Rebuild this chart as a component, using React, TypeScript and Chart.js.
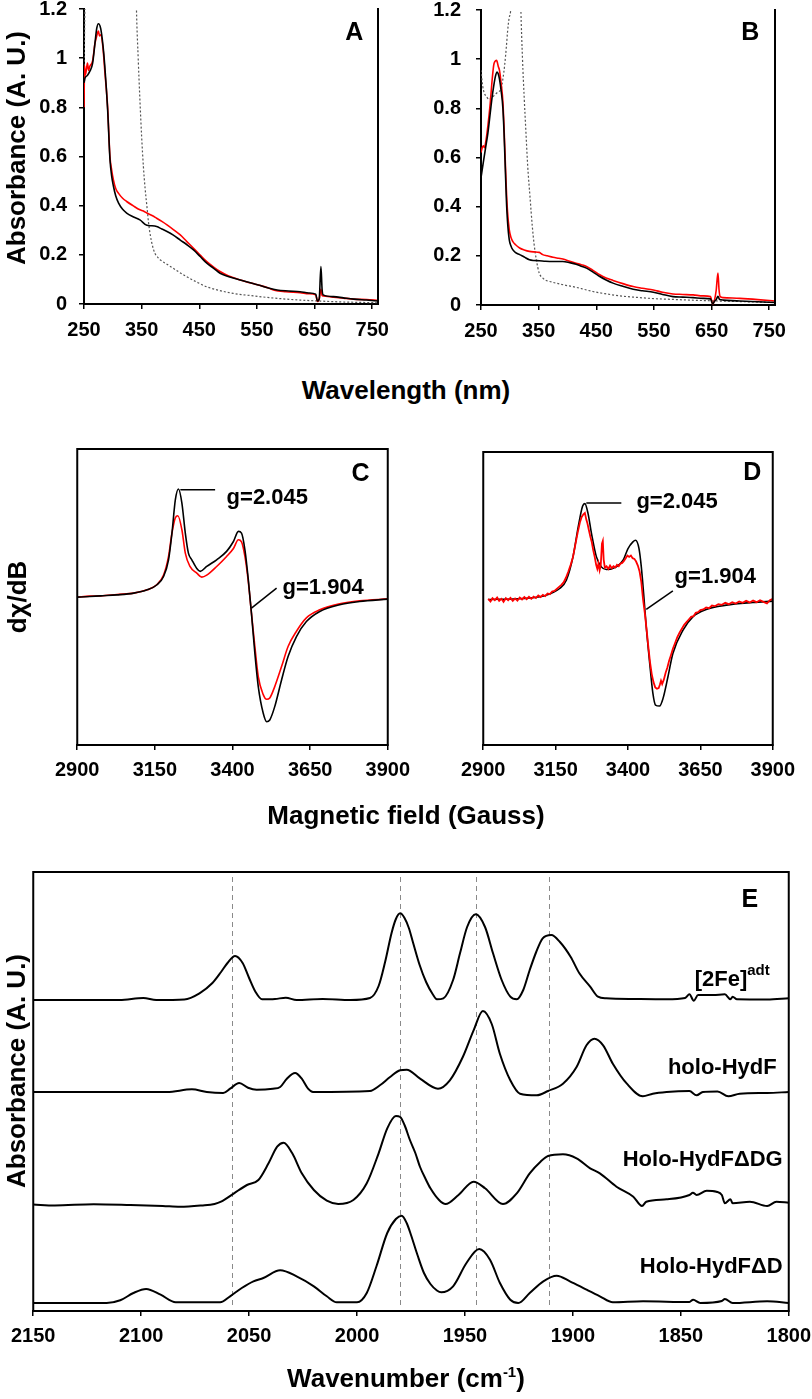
import React, { useEffect, useRef } from "react";
import { Chart, registerables } from "chart.js";

Chart.register(...registerables);

const FONT = '"Liberation Sans", Arial, Helvetica, sans-serif';
type Pt = [number, number];

// ---------- Panel A / B : UV-vis ----------
const AB_X_TICKS = [250, 350, 450, 550, 650, 750];
const AB_Y_TICKS = [0, 0.2, 0.4, 0.6, 0.8, 1, 1.2];

const A_BLACK: Pt[] = [
  [250, 0.9], [252, 0.92], [256, 0.93], [260, 0.946], [265, 0.98], [269, 1.06], [272, 1.12], [275, 1.14],
  [279, 1.12], [283, 1.05], [286, 0.97], [291, 0.79], [295, 0.59], [298, 0.52], [301, 0.48], [305, 0.44],
  [310, 0.41], [317, 0.385], [324, 0.37], [335, 0.355], [347, 0.342], [359, 0.32], [368, 0.318], [376, 0.315],
  [385, 0.305], [394, 0.295], [405, 0.28], [417, 0.26], [428, 0.242], [440, 0.22], [452, 0.192], [463, 0.166],
  [475, 0.145], [486, 0.125], [500, 0.112], [521, 0.098], [540, 0.085], [556, 0.075], [570, 0.065], [585, 0.057],
  [605, 0.053], [625, 0.05], [640, 0.045], [652, 0.04], [655, 0.012], [658, 0.02], [661, 0.152], [663, 0.06],
  [665, 0.037], [683, 0.03], [700, 0.025], [718, 0.02], [740, 0.016], [760, 0.012],
];
const A_RED: Pt[] = [
  [250, 0.8], [251, 0.97], [252, 0.93], [254, 0.95], [256, 0.98], [258, 0.95], [260, 0.966], [265, 0.99],
  [269, 1.06], [272, 1.09], [275, 1.11], [277, 1.09], [279, 1.095], [283, 1.04], [286, 0.95], [291, 0.8],
  [295, 0.6], [298, 0.545], [301, 0.505], [305, 0.47], [310, 0.45], [317, 0.43], [324, 0.417], [335, 0.4],
  [347, 0.383], [353, 0.378], [359, 0.37], [368, 0.36], [376, 0.349], [385, 0.336], [394, 0.322], [405, 0.303],
  [417, 0.281], [428, 0.255], [440, 0.227], [452, 0.198], [463, 0.172], [475, 0.15], [486, 0.132], [500, 0.115],
  [521, 0.098], [540, 0.085], [556, 0.075], [570, 0.065], [580, 0.056], [600, 0.05], [625, 0.046], [640, 0.042],
  [652, 0.037], [655, 0.01], [658, 0.02], [661, 0.06], [663, 0.035], [665, 0.033], [683, 0.028], [700, 0.024],
  [718, 0.02], [740, 0.018], [760, 0.015],
];
const A_DOTTED: Pt[] = [
  [250, 0.92], [251, 1.1], [252, 1.3], [253, 1.6], [300, 1.6], [338, 1.6], [341, 1.2], [344, 1.0], [347, 0.83],
  [350, 0.68], [353, 0.56], [356, 0.47], [359, 0.4], [362, 0.33], [365, 0.28], [369, 0.235], [373, 0.206],
  [378, 0.19], [382, 0.18], [393, 0.163], [405, 0.145], [416, 0.128], [428, 0.111], [445, 0.09], [463, 0.07],
  [485, 0.055], [509, 0.043], [540, 0.034], [567, 0.027], [600, 0.02], [625, 0.016], [650, 0.013], [660, 0.012],
  [683, 0.0095], [720, 0.007], [760, 0.005],
];

const B_BLACK: Pt[] = [
  [250, 0.518], [254, 0.58], [258, 0.64], [262, 0.7], [266, 0.78], [269, 0.84], [272, 0.89], [275, 0.93],
  [278, 0.948], [280, 0.94], [282, 0.92], [285, 0.87], [288, 0.8], [290, 0.7], [292, 0.566], [294, 0.43],
  [296, 0.34], [299, 0.266], [302, 0.24], [305, 0.225], [310, 0.213], [317, 0.205], [325, 0.195], [334, 0.184],
  [342, 0.181], [351, 0.18], [362, 0.178], [375, 0.177], [392, 0.177], [404, 0.172], [415, 0.166], [424, 0.158],
  [433, 0.15], [445, 0.133], [456, 0.116], [467, 0.102], [479, 0.089], [496, 0.076], [514, 0.064], [530, 0.058],
  [549, 0.052], [565, 0.043], [583, 0.034], [600, 0.032], [618, 0.03], [635, 0.027], [648, 0.025], [652, 0.004],
  [655, 0.015], [658, 0.022], [661, 0.035], [664, 0.022], [670, 0.02], [699, 0.016], [730, 0.013], [760, 0.01],
];
const B_RED: Pt[] = [
  [250, 0.62], [252, 0.64], [254, 0.648], [256, 0.64], [258, 0.66], [262, 0.73], [266, 0.82], [269, 0.907],
  [272, 0.975], [274, 0.99], [277, 0.995], [280, 0.97], [282, 0.955], [285, 0.9], [288, 0.825], [290, 0.72],
  [292, 0.593], [294, 0.47], [296, 0.38], [299, 0.307], [302, 0.275], [305, 0.259], [310, 0.245], [317, 0.232],
  [325, 0.224], [334, 0.218], [342, 0.216], [351, 0.214], [357, 0.205], [365, 0.2], [375, 0.194], [385, 0.19],
  [392, 0.187], [404, 0.178], [415, 0.17], [424, 0.164], [433, 0.157], [445, 0.14], [456, 0.123], [467, 0.11],
  [479, 0.1], [496, 0.087], [514, 0.075], [530, 0.068], [549, 0.061], [565, 0.052], [583, 0.045], [600, 0.043],
  [618, 0.041], [635, 0.037], [648, 0.034], [652, 0.004], [655, 0.02], [658, 0.06], [661, 0.13], [663, 0.06],
  [665, 0.034], [670, 0.03], [699, 0.027], [730, 0.022], [760, 0.016],
];
const B_DOTTED: Pt[] = [
  [250, 0.955], [253, 0.89], [256, 0.86], [259, 0.85], [264, 0.836], [270, 0.846], [275, 0.857], [279, 0.866],
  [285, 0.88], [288, 0.92], [291, 0.975], [294, 1.05], [296, 1.11], [299, 1.17], [302, 1.22], [305, 1.6],
  [316, 1.6], [319, 1.22], [322, 1.0], [325, 0.84], [328, 0.7], [331, 0.566], [335, 0.44], [339, 0.32],
  [342, 0.25], [346, 0.184], [351, 0.13], [357, 0.11], [363, 0.1], [372, 0.094], [380, 0.089], [397, 0.08],
  [415, 0.072], [430, 0.063], [444, 0.055], [465, 0.046], [491, 0.037], [520, 0.031], [549, 0.026], [580, 0.023],
  [612, 0.02], [650, 0.017], [699, 0.014], [730, 0.012], [760, 0.01],
];

// ---------- Panel C / D : EPR ----------
const CD_X_TICKS = [2900, 3150, 3400, 3650, 3900];

const C_BLACK: Pt[] = [
  [2900, -0.5], [2940, 0], [2975, 0.5], [3028, 1.2], [3082, 2.5], [3125, 5], [3157, 8.8], [3178, 15],
  [3194, 27.5], [3205, 47.5], [3216, 72.5], [3226, 80.5], [3237, 70], [3248, 47.5], [3258, 32.5], [3269, 27.5],
  [3285, 21], [3296, 18.8], [3317, 22.5], [3349, 27.5], [3381, 33.8], [3403, 41.2], [3419, 48.8], [3429, 47.5],
  [3440, 35], [3451, 12.5], [3461, -12.5], [3472, -42.5], [3483, -67.5], [3499, -87.5], [3510, -93.8],
  [3520, -92.5], [3536, -82.5], [3558, -62.5], [3579, -45], [3606, -30], [3638, -18.8], [3681, -11.2],
  [3745, -6.2], [3809, -3.8], [3900, -2],
];
const C_RED: Pt[] = [
  [2900, -0.5], [2940, 0.3], [2975, 0.5], [3028, 1.5], [3082, 2.5], [3125, 5], [3157, 9], [3178, 16],
  [3194, 30], [3205, 47.5], [3216, 59], [3224, 60.5], [3237, 50], [3248, 32.5], [3263, 22.5], [3285, 17.5],
  [3301, 14.5], [3317, 16], [3349, 22.5], [3381, 30], [3403, 36], [3419, 42.5], [3429, 41], [3440, 30],
  [3451, 11], [3461, -12.5], [3472, -37.5], [3483, -60], [3499, -73.5], [3510, -77], [3520, -76], [3536, -67.5],
  [3558, -52.5], [3579, -37.5], [3606, -26], [3638, -16], [3681, -10], [3745, -5.5], [3809, -3.2], [3900, -1.8],
];
const D_BLACK: Pt[] = [
  [2917, 0], [3038, 0.75], [3118, 3.25], [3164, 8.25], [3187, 14.5], [3210, 32], [3228, 54.5], [3243, 70],
  [3251, 72], [3262, 64.5], [3274, 49.5], [3291, 32], [3308, 24.5], [3325, 22.5], [3360, 24.5], [3383, 29.5],
  [3400, 38.25], [3417, 43.25], [3426, 44.5], [3438, 38.25], [3446, 24.5], [3454, 4.5], [3463, -20.5],
  [3475, -48], [3486, -70.5], [3495, -79.25], [3509, -80], [3521, -74.25], [3538, -58], [3555, -40.5],
  [3590, -23], [3624, -13], [3670, -7.5], [3739, -4.25], [3831, -2.25], [3900, -1.25],
];
const D_RED: Pt[] = [
  [2917, 0.5], [2925, -1.5], [2932, 1], [2940, -0.5], [2948, 1.5], [2955, -1], [2963, 0.5], [2970, -1.8],
  [2978, 1], [2986, -0.5], [2994, 1.2], [3002, -1], [3010, 0.8], [3018, -0.8], [3026, 1.5], [3034, 0],
  [3042, 1.8], [3050, 0.2], [3058, 2], [3066, 0.5], [3074, 2.2], [3082, 1], [3090, 3], [3098, 1.8],
  [3106, 3.5], [3114, 2.5], [3122, 4.5], [3130, 4], [3138, 6], [3146, 6.5], [3154, 8], [3162, 9.5],
  [3170, 11], [3178, 13], [3186, 16.5], [3194, 21], [3202, 26], [3210, 32], [3218, 41], [3226, 50],
  [3234, 58], [3240, 62], [3246, 64], [3251, 65], [3256, 60], [3260, 57], [3265, 52], [3270, 47],
  [3275, 43], [3280, 37], [3285, 32], [3290, 26], [3294, 23], [3298, 27], [3302, 22], [3306, 26],
  [3310, 42], [3313, 44], [3316, 30], [3320, 24], [3326, 25], [3332, 23], [3338, 25.5], [3344, 23.5],
  [3350, 25], [3356, 24], [3362, 26], [3368, 25], [3374, 27], [3380, 27.5], [3386, 29], [3392, 31],
  [3398, 33], [3404, 32], [3410, 33], [3416, 31], [3422, 30.5], [3428, 28.5], [3434, 25.5], [3440, 21],
  [3446, 13], [3452, 0], [3458, -10], [3464, -22], [3470, -35], [3476, -47], [3482, -56], [3488, -62],
  [3494, -66], [3500, -67], [3506, -66.5], [3510, -64], [3514, -61], [3518, -63.5], [3524, -60], [3530, -55],
  [3536, -51], [3542, -46], [3548, -42], [3555, -37], [3562, -33], [3570, -28.5], [3578, -25], [3586, -22],
  [3594, -19], [3602, -17], [3610, -15], [3618, -13], [3626, -12.5], [3634, -10], [3642, -9.5], [3650, -8],
  [3660, -7.5], [3670, -6], [3680, -6.5], [3690, -4.5], [3700, -5], [3712, -3.5], [3724, -4], [3736, -2.5],
  [3748, -3.5], [3760, -2], [3772, -3], [3784, -1.5], [3796, -2.5], [3808, -1], [3820, -2.2], [3832, -0.8],
  [3844, -2], [3856, -0.5], [3868, -1.8], [3880, -3], [3890, -0.5], [3900, 0.5],
];

// ---------- Panel E : FTIR ----------
const E_X_TICKS = [2150, 2100, 2050, 2000, 1950, 1900, 1850, 1800];
const E_MARKERS = [2058, 1980, 1945, 1911];
const E_NAMES = ["[2Fe]", "holo-HydF", "Holo-HydFΔDG", "Holo-HydFΔD"];
const E_OFFSETS = [311, 219, 106, 8];

const E_2FE: Pt[] = [
  [2150, 0], [2110, 0], [2099, 2], [2093, 0], [2080, 0.5], [2073, 6.7], [2067, 17], [2063, 28], [2060, 37],
  [2056.5, 44], [2053, 37], [2050, 22], [2047, 8], [2044, 0.7], [2038, 1], [2033, 2.3], [2028, 0], [2016, 1],
  [2003, 0], [1994, 2], [1990, 14], [1987, 38], [1984, 67], [1982, 81], [1980, 86.7], [1978, 82], [1976, 72],
  [1974, 57], [1971, 35], [1968, 18], [1965, 6], [1963, 0.7], [1960, 1.7], [1955.5, 20], [1952.3, 46.7],
  [1949, 73], [1945, 85.7], [1940.7, 73], [1937, 46.7], [1933, 20], [1929, 3.3], [1926, 0.7], [1923, 10],
  [1920, 30], [1917, 48], [1914, 61.7], [1910, 65], [1906, 58], [1901, 43], [1897, 26.7], [1892, 13.3],
  [1888.4, 3.3], [1884.5, 1.7], [1870.5, 1], [1856.6, 0.7], [1848, 2], [1846, 5.7], [1844, -0.7], [1842, 5],
  [1835, 5], [1829.6, 5.7], [1827, 0.7], [1826, 3.3], [1824, 0.7], [1810, 0.5], [1800, 1.7],
];
const E_HOLO: Pt[] = [
  [2150, 0], [2110, 0], [2088, 0], [2076.5, 2.7], [2069.6, 0], [2062, -1], [2058.8, 3.3], [2054.6, 9],
  [2050.5, 4.3], [2046.5, 2.3], [2039, 3.3], [2035.6, 5], [2032.5, 13.3], [2028.7, 19], [2025.6, 13.3],
  [2022.7, 3.3], [2020.4, 0], [1994, 1], [1989.4, 6.7], [1984.7, 15], [1980, 21.7], [1977, 22.3],
  [1970.8, 13.3], [1962.5, 3.3], [1957, 11.7], [1951, 35], [1946, 61.7], [1941.7, 81], [1937.6, 68],
  [1933.8, 38], [1929, 11.7], [1924.5, -1.7], [1916.8, -3.3], [1911.5, 1], [1904.6, 8.3], [1898.3, 25],
  [1893.7, 46.7], [1890, 53.3], [1886, 46.7], [1881.5, 28.3], [1875, 8.3], [1867.6, -4.3], [1863, -1.7],
  [1856.6, 0], [1846, 1], [1842.7, -3.3], [1839.8, 0], [1833, 0.5], [1828, -4.3], [1822.7, -1.7],
  [1810, -1], [1800, 0],
];
const E_DG: Pt[] = [
  [2150, 0.5], [2140, -0.5], [2122, 0.8], [2105, 0], [2090, -1], [2082, -1.8], [2072, -0.5], [2066, 1],
  [2063, 3.3], [2057, 11.7], [2051, 20], [2045.7, 25], [2041, 41.7], [2037, 58.3], [2034, 62.3], [2030, 51.7],
  [2025.6, 31.7], [2020, 15], [2014, 4.3], [2008.7, 1], [2001.7, 5], [1995.5, 21.7], [1990, 51.7],
  [1986, 76.7], [1982, 89], [1980, 88], [1978, 80], [1975.5, 65], [1973, 52], [1970.8, 38], [1968, 25],
  [1966, 16.7], [1962, 5], [1959, 1], [1953, 10], [1946, 23.3], [1940.7, 16.7], [1932.4, 1], [1926, 11.7],
  [1920, 31.7], [1915, 43.3], [1911.5, 49], [1904.6, 50.7], [1898.3, 46.7], [1892, 36.7], [1887.5, 31.7],
  [1879.8, 18.3], [1872, 8.3], [1868, -1], [1866, 3.3], [1856.6, 5.7], [1846, 10], [1844.4, 12.3],
  [1842.7, 10], [1838, 14.3], [1833.5, 13.3], [1831, 10], [1829.6, 1.7], [1827, 5.7], [1826, 1.7], [1818, 3.3],
  [1810, -1], [1805.7, 3.3], [1800, 2.3],
];
const E_D: Pt[] = [
  [2150, 0], [2116, 0], [2109.7, 2.7], [2103.6, 10], [2097.7, 14], [2091, 8.3], [2084, 0.7], [2063.4, 0.7],
  [2058.8, 6.7], [2053.4, 15], [2048, 21.7], [2043.4, 25], [2035.6, 32.7], [2028, 26.7], [2020, 16.7],
  [2014, 6.7], [2009.4, 0.7], [2000, 0.7], [1995.5, 10], [1991, 36.7], [1986, 70], [1982, 84], [1979.3, 87.3],
  [1977, 80], [1975, 68], [1972, 48], [1969, 30], [1966, 19], [1963, 12.5], [1961, 10.7], [1955.5, 16.7],
  [1949.3, 40], [1943.4, 54], [1938.4, 43.3], [1933.8, 20], [1929, 3.3], [1925.3, 0], [1920, 10],
  [1913.7, 21.7], [1907.5, 27.3], [1901.4, 21.7], [1893.7, 13.3], [1887.5, 6.7], [1881.5, 0.7],
  [1867.5, 1.7], [1846, 1], [1844.3, 3.3], [1841, 0], [1831, 2], [1829.6, 4], [1826, 0], [1810, 1.7], [1800, 0],
];
const E_TRACES = [E_2FE, E_HOLO, E_DG, E_D];

// ---------- helpers ----------
const PAD = 30;

function line(data: Pt[], color: string, width: number, extra: any = {}) {
  return {
    data: data.map(([x, y]) => ({ x, y })),
    borderColor: color,
    backgroundColor: color,
    borderWidth: width,
    pointRadius: 0,
    fill: false,
    cubicInterpolationMode: "monotone",
    ...extra,
  };
}

interface TextItem { x: number; y: number; text: string; size: number; align?: CanvasTextAlign; sup?: string; supSize?: number }
interface Overlay { frame?: string[]; vlines?: number[]; segments?: number[][]; texts?: TextItem[] }

function makeOverlay(o: Overlay) {
  return {
    id: "overlay",
    beforeDatasetsDraw(chart: any) {
      const { ctx, chartArea: a, scales } = chart;
      if (!o.vlines) return;
      ctx.save();
      ctx.strokeStyle = "#8a8a8a";
      ctx.lineWidth = 1;
      ctx.setLineDash([5, 4]);
      for (const v of o.vlines) {
        const px = Math.round(scales.x.getPixelForValue(v)) + 0.5;
        ctx.beginPath();
        ctx.moveTo(px, a.top + 5);
        ctx.lineTo(px, a.bottom - 6);
        ctx.stroke();
      }
      ctx.restore();
    },
    afterDatasetsDraw(chart: any) {
      const { ctx, chartArea: a, scales } = chart;
      const xs = scales.x, ys = scales.y;
      ctx.save();
      ctx.strokeStyle = "#000";
      ctx.lineWidth = 1.5;
      for (const [x1, y1, x2, y2] of o.segments || []) {
        ctx.beginPath();
        ctx.moveTo(xs.getPixelForValue(x1), ys.getPixelForValue(y1));
        ctx.lineTo(xs.getPixelForValue(x2), ys.getPixelForValue(y2));
        ctx.stroke();
      }
      const f = o.frame || [];
      ctx.lineWidth = 2;
      ctx.beginPath();
      if (f.includes("top")) { ctx.moveTo(a.left - 1, a.top); ctx.lineTo(a.right + 1, a.top); }
      if (f.includes("right")) { ctx.moveTo(a.right, a.top - 1); ctx.lineTo(a.right, a.bottom + 1); }
      if (f.includes("left")) { ctx.moveTo(a.left, a.top - 1); ctx.lineTo(a.left, a.bottom + 1); }
      if (f.includes("bottom")) { ctx.moveTo(a.left - 1, a.bottom); ctx.lineTo(a.right + 1, a.bottom); }
      ctx.stroke();
      ctx.fillStyle = "#000";
      ctx.textBaseline = "middle";
      for (const t of o.texts || []) {
        const px = xs.getPixelForValue(t.x);
        const py = ys.getPixelForValue(t.y);
        if (t.sup) {
          ctx.font = `bold ${t.supSize}px ${FONT}`;
          const sw = ctx.measureText(t.sup).width;
          ctx.textAlign = "left";
          ctx.fillText(t.sup, px - sw, py - t.size * 0.4);
          ctx.font = `bold ${t.size}px ${FONT}`;
          ctx.textAlign = "right";
          ctx.fillText(t.text, px - sw, py);
        } else {
          ctx.font = `bold ${t.size}px ${FONT}`;
          ctx.textAlign = t.align || "left";
          ctx.fillText(t.text, px, py);
        }
      }
      ctx.restore();
    },
  };
}

interface PanelCfg {
  key: string;
  area: { l: number; t: number; r: number; b: number };
  yW: number;
  xH: number;
  xMin: number; xMax: number; xTicks: number[]; xPad: number; xReverse?: boolean;
  yMin: number; yMax: number; yTicks?: number[]; yPad?: number;
  datasets: any[];
  overlay: Overlay;
}

const TICK_FONT = { family: FONT, size: 20, weight: "bold" as const, lineHeight: 1.2 };

function geom(c: PanelCfg) {
  return {
    left: c.area.l - c.yW - PAD,
    top: c.area.t - PAD,
    width: c.yW + (c.area.r - c.area.l) + 2 * PAD,
    height: c.area.b - c.area.t + c.xH + 2 * PAD,
  };
}

function buildConfig(c: PanelCfg): any {
  const y = c.yTicks
    ? {
        type: "linear",
        min: c.yMin,
        max: c.yMax,
        afterBuildTicks: (s: any) => { s.ticks = c.yTicks!.map((v) => ({ value: v })); },
        afterFit: (s: any) => { s.width = c.yW; },
        grid: { drawOnChartArea: false, drawTicks: true, tickLength: 5, color: "#000", lineWidth: 1.5 },
        border: { display: true, color: "#000", width: 2 },
        ticks: { color: "#000", font: TICK_FONT, padding: c.yPad, autoSkip: false, callback: (v: any) => String(v) },
      }
    : { type: "linear", display: false, min: c.yMin, max: c.yMax };
  return {
    type: "line",
    data: { datasets: c.datasets },
    plugins: [makeOverlay(c.overlay)],
    options: {
      animation: false,
      responsive: false,
      devicePixelRatio: 1,
      events: [],
      layout: { padding: PAD },
      plugins: { legend: { display: false }, tooltip: { enabled: false } },
      scales: {
        x: {
          type: "linear",
          min: c.xMin,
          max: c.xMax,
          reverse: !!c.xReverse,
          afterBuildTicks: (s: any) => { s.ticks = c.xTicks.map((v) => ({ value: v })); },
          afterFit: (s: any) => { s.height = c.xH; },
          grid: { drawOnChartArea: false, drawTicks: true, tickLength: 5, color: "#000", lineWidth: 1.5 },
          border: { display: true, color: "#000", width: 2 },
          ticks: { color: "#000", font: TICK_FONT, padding: c.xPad, maxRotation: 0, autoSkip: false, callback: (v: any) => String(v) },
        },
        y,
      },
    },
  };
}

const DOT = { borderDash: [2, 2] };

const PANELS: PanelCfg[] = [
  {
    key: "A",
    area: { l: 84, t: 9, r: 378, b: 304 },
    yW: 60, xH: 40, xMin: 250, xMax: 760, xTicks: AB_X_TICKS, xPad: 9,
    yMin: 0, yMax: 1.2, yTicks: AB_Y_TICKS, yPad: 12,
    datasets: [line(A_BLACK, "#000", 1.6), line(A_RED, "#ff0000", 1.6), line(A_DOTTED, "#555", 1.2, DOT)],
    overlay: { frame: ["right"], texts: [{ x: 719, y: 1.1, text: "A", size: 25, align: "center" }] },
  },
  {
    key: "B",
    area: { l: 481, t: 10, r: 775, b: 305 },
    yW: 60, xH: 40, xMin: 250, xMax: 760, xTicks: AB_X_TICKS, xPad: 9,
    yMin: 0, yMax: 1.2, yTicks: AB_Y_TICKS, yPad: 15,
    datasets: [line(B_BLACK, "#000", 1.6), line(B_RED, "#ff0000", 1.6), line(B_DOTTED, "#555", 1.2, DOT)],
    overlay: { frame: ["right"], texts: [{ x: 717, y: 1.107, text: "B", size: 25, align: "center" }] },
  },
  {
    key: "C",
    area: { l: 77, t: 449, r: 388, b: 745 },
    yW: 0, xH: 40, xMin: 2900, xMax: 3900, xTicks: CD_X_TICKS, xPad: 8,
    yMin: -111.25, yMax: 110.5,
    datasets: [line(C_BLACK, "#000", 1.6), line(C_RED, "#ff0000", 1.6)],
    overlay: {
      frame: ["top", "right", "left", "bottom"],
      segments: [[3232, 80, 3344, 80], [3461, -8.75, 3542, 6.25]],
      texts: [
        { x: 3812, y: 92, text: "C", size: 25, align: "center" },
        { x: 3381, y: 73.5, text: "g=2.045", size: 22 },
        { x: 3561, y: 6.25, text: "g=1.904", size: 22 },
      ],
    },
  },
  {
    key: "D",
    area: { l: 483, t: 452, r: 773, b: 745 },
    yW: 0, xH: 40, xMin: 2900, xMax: 3900, xTicks: CD_X_TICKS, xPad: 8,
    yMin: -109.25, yMax: 110.75,
    datasets: [line(D_RED, "#ff0000", 1.8, { cubicInterpolationMode: "default", tension: 0 }), line(D_BLACK, "#000", 1.6)],
    overlay: {
      frame: ["top", "right", "left", "bottom"],
      segments: [[3256, 72.5, 3377, 72.5], [3463, -7.5, 3555, 6.5]],
      texts: [
        { x: 3829, y: 94.75, text: "D", size: 25, align: "center" },
        { x: 3429, y: 73, text: "g=2.045", size: 22 },
        { x: 3561, y: 17, text: "g=1.904", size: 22 },
      ],
    },
  },
  {
    key: "E",
    area: { l: 33, t: 872, r: 789, b: 1311 },
    yW: 0, xH: 40, xMin: 1800, xMax: 2150, xTicks: E_X_TICKS, xPad: 8, xReverse: true,
    yMin: 0, yMax: 439,
    datasets: E_TRACES.map((tr, i) => line(tr.map(([x, h]) => [x, h + E_OFFSETS[i]] as Pt), "#000", 2)),
    overlay: {
      frame: ["top", "right", "left", "bottom"],
      vlines: E_MARKERS,
      texts: [
        { x: 1818, y: 411, text: "E", size: 25, align: "center" },
        { x: 1808.8, y: 331, text: E_NAMES[0], size: 22, sup: "adt", supSize: 15 },
        { x: 1805.6, y: 243, text: E_NAMES[1], size: 22, align: "right" },
        { x: 1802.8, y: 151, text: E_NAMES[2], size: 22, align: "right" },
        { x: 1802.8, y: 44, text: E_NAMES[3], size: 22, align: "right" },
      ],
    },
  },
];

function ChartPanel({ cfg }: { cfg: PanelCfg }) {
  const ref = useRef<HTMLCanvasElement>(null);
  useEffect(() => {
    const chart = new Chart(ref.current as HTMLCanvasElement, buildConfig(cfg));
    return () => chart.destroy();
  }, [cfg]);
  const g = geom(cfg);
  return (
    <canvas
      ref={ref}
      width={g.width}
      height={g.height}
      style={{ position: "absolute", left: g.left, top: g.top, width: g.width, height: g.height }}
    />
  );
}

function Title({ x, y, rotate, children }: { x: number; y: number; rotate?: boolean; children: React.ReactNode }) {
  return (
    <div
      style={{
        position: "absolute",
        left: x,
        top: y,
        transform: `translate(-50%, -50%)${rotate ? " rotate(-90deg)" : ""}`,
        whiteSpace: "nowrap",
        fontFamily: FONT,
        fontWeight: "bold",
        fontSize: 26,
        lineHeight: "26px",
        color: "#000",
      }}
    >
      {children}
    </div>
  );
}

export default function App() {
  return (
    <div
      style={{
        position: "absolute",
        left: 0,
        top: 0,
        width: 812,
        height: 1399,
        overflow: "hidden",
        background: "#fff",
      }}
    >
      {PANELS.map((p) => (
        <ChartPanel key={p.key} cfg={p} />
      ))}
      <Title x={16} y={148} rotate>Absorbance (A. U.)</Title>
      <Title x={406} y={390}>Wavelength (nm)</Title>
      <Title x={17} y={597} rotate>dχ/dB</Title>
      <Title x={406} y={815}>Magnetic field (Gauss)</Title>
      <Title x={16} y={1071} rotate>Absorbance (A. U.)</Title>
      <Title x={406} y={1380}>
        Wavenumber (cm<span style={{ fontSize: 15, position: "relative", top: -10 }}>-1</span>)
      </Title>
    </div>
  );
}
